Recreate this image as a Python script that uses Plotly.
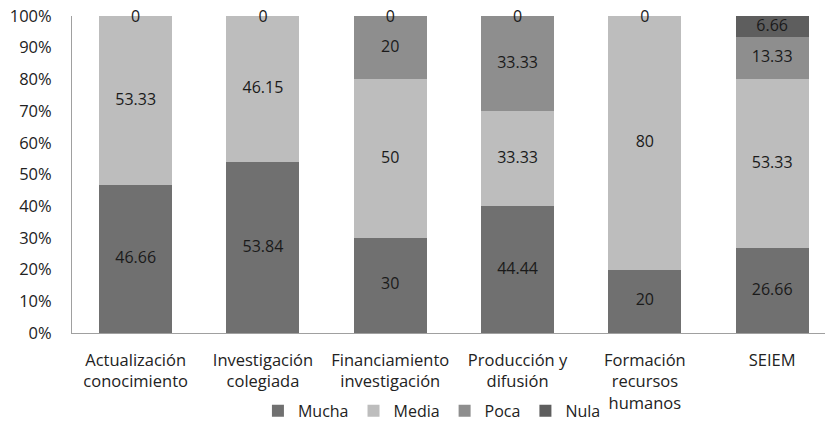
import numpy as np
import plotly.graph_objects as go

categories = ["Actualización<br>conocimiento", "Investigación<br>colegiada",
              "Financiamiento<br>investigación", "Producción y<br>difusión",
              "Formación<br>recursos<br>humanos", "SEIEM"]
series_names = ["Mucha", "Media", "Poca", "Nula"]
mucha = [46.66, 53.84, 30, 44.44, 20, 26.66]
media = [53.33, 46.15, 50, 33.33, 80, 53.33]
poca = [0, 0, 20, 33.33, 0, 13.33]
nula = [0, 0, 0, 0, 0, 6.66]
colors = ["#707070", "#bdbdbd", "#8e8e8e", "#5e5e5e"]
y_ticks = [0, 10, 20, 30, 40, 50, 60, 70, 80, 90, 100]

data = np.array([mucha, media, poca, nula], dtype=float)
totals = data.sum(axis=0)
pct = data / totals * 100
tops = np.cumsum(pct, axis=0)
mids = tops - pct / 2

FONT = "Open Sans"
FS = 16.5
fig = go.Figure()
x_idx = list(range(len(categories)))
for name, p, col in zip(series_names, pct, colors):
    fig.add_trace(go.Bar(
        x=x_idx, y=p, name=name, marker=dict(color=col, line=dict(width=0)),
        hoverinfo="skip",
    ))

# value labels: centred in each non-zero segment, zero values at top of bar
lx, ly, lt = [], [], []
for s in range(len(series_names)):
    for i in x_idx:
        if data[s, i] > 0:
            lx.append(i); ly.append(mids[s, i]); lt.append("%g" % data[s, i])
zero_x = [i for i in x_idx if (data[:, i] == 0).any()]
for i in zero_x:
    lx.append(i); ly.append(99.4); lt.append("0")
fig.add_trace(go.Scatter(
    x=lx, y=ly, mode="text", text=lt,
    textposition="middle center", showlegend=False, hoverinfo="skip",
    cliponaxis=False,
    textfont=dict(family=FONT, size=16, color="#1a1a1a"),
))

fig.update_layout(
    barmode="stack", bargap=0.427,
    width=825, height=425,
    margin=dict(l=72, r=0, t=16, b=92, autoexpand=False),
    paper_bgcolor="white", plot_bgcolor="white",
    font=dict(family=FONT, size=FS, color="#222222"),
    showlegend=True,
    legend=dict(orientation="h", x=0.478, xanchor="center", y=-0.192, yanchor="top",
                font=dict(family=FONT, size=16, color="#222222"),
                itemwidth=30, traceorder="normal"),
    xaxis=dict(range=[-0.5, 5.415], tickmode="array", tickvals=x_idx, ticktext=categories,
               showline=True, linecolor="#a0a0a0", linewidth=1, ticks="",
               showgrid=False, zeroline=False, tickfont=dict(family=FONT, size=FS),
               ticklabelstandoff=12, automargin=False),
    yaxis=dict(range=[0, 100], tickmode="array", tickvals=y_ticks,
               ticktext=[f"{t}%" for t in y_ticks],
               showline=True, linecolor="#a0a0a0", linewidth=1, ticks="",
               showgrid=False, zeroline=False, tickfont=dict(family=FONT, size=FS),
               ticklabelstandoff=16, automargin=False),
)
fig.write_html("out.html")
